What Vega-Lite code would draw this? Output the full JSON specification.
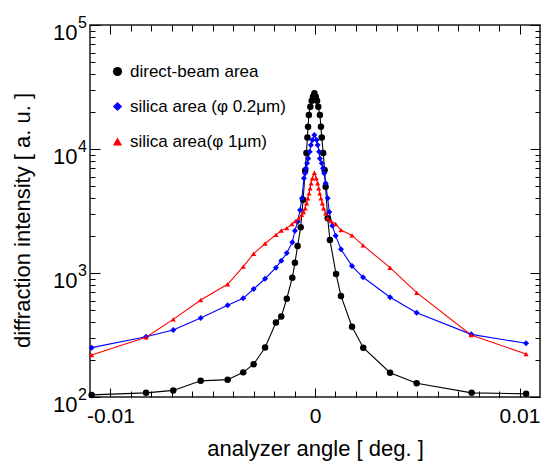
{
  "$schema": "https://vega.github.io/schema/vega-lite/v6.json",
  "width": 450,
  "height": 372,
  "autosize": "none",
  "padding": {"left": 90, "top": 25, "right": 3, "bottom": 65},
  "background": "white",
  "config": {
    "view": {"stroke": "#1a1a1a", "strokeWidth": 1.5},
    "font": "Liberation Sans",
    "axis": {"grid": false, "domain": false, "tickColor": "#000", "tickWidth": 1, "labelColor": "#000", "titleColor": "#000", "titleFontWeight": "normal"}
  },
  "data": {"values": [
    {"series": "direct-beam area", "x": -0.01092, "y": 104},
    {"series": "direct-beam area", "x": -0.00826, "y": 108},
    {"series": "direct-beam area", "x": -0.00693, "y": 113},
    {"series": "direct-beam area", "x": -0.00559, "y": 135},
    {"series": "direct-beam area", "x": -0.00427, "y": 138},
    {"series": "direct-beam area", "x": -0.00351, "y": 158},
    {"series": "direct-beam area", "x": -0.00300, "y": 184},
    {"series": "direct-beam area", "x": -0.00244, "y": 251},
    {"series": "direct-beam area", "x": -0.00191, "y": 398},
    {"series": "direct-beam area", "x": -0.00165, "y": 445},
    {"series": "direct-beam area", "x": -0.00138, "y": 621},
    {"series": "direct-beam area", "x": -0.00111, "y": 916},
    {"series": "direct-beam area", "x": -0.00098, "y": 1211},
    {"series": "direct-beam area", "x": -0.00085, "y": 1652},
    {"series": "direct-beam area", "x": -0.00070, "y": 2340},
    {"series": "direct-beam area", "x": -0.00058, "y": 3900},
    {"series": "direct-beam area", "x": -0.00048, "y": 6700},
    {"series": "direct-beam area", "x": -0.00042, "y": 9300},
    {"series": "direct-beam area", "x": -0.00037, "y": 12400},
    {"series": "direct-beam area", "x": -0.00034, "y": 15100},
    {"series": "direct-beam area", "x": -0.00030, "y": 18800},
    {"series": "direct-beam area", "x": -0.00023, "y": 21900},
    {"series": "direct-beam area", "x": -0.00016, "y": 24500},
    {"series": "direct-beam area", "x": -0.00010, "y": 26400},
    {"series": "direct-beam area", "x": -0.00003, "y": 28100},
    {"series": "direct-beam area", "x": 0.00004, "y": 26400},
    {"series": "direct-beam area", "x": 0.00010, "y": 24500},
    {"series": "direct-beam area", "x": 0.00016, "y": 21900},
    {"series": "direct-beam area", "x": 0.00024, "y": 18800},
    {"series": "direct-beam area", "x": 0.00029, "y": 15100},
    {"series": "direct-beam area", "x": 0.00033, "y": 12400},
    {"series": "direct-beam area", "x": 0.00040, "y": 9300},
    {"series": "direct-beam area", "x": 0.00047, "y": 6760},
    {"series": "direct-beam area", "x": 0.00052, "y": 4970},
    {"series": "direct-beam area", "x": 0.00062, "y": 2760},
    {"series": "direct-beam area", "x": 0.00073, "y": 1845},
    {"series": "direct-beam area", "x": 0.00103, "y": 981},
    {"series": "direct-beam area", "x": 0.00127, "y": 653},
    {"series": "direct-beam area", "x": 0.00181, "y": 369},
    {"series": "direct-beam area", "x": 0.00236, "y": 250},
    {"series": "direct-beam area", "x": 0.00367, "y": 157},
    {"series": "direct-beam area", "x": 0.00497, "y": 129},
    {"series": "direct-beam area", "x": 0.00766, "y": 108},
    {"series": "direct-beam area", "x": 0.01032, "y": 106},

    {"series": "silica area (φ 0.2μm)", "x": -0.01092, "y": 250},
    {"series": "silica area (φ 0.2μm)", "x": -0.00826, "y": 306},
    {"series": "silica area (φ 0.2μm)", "x": -0.00693, "y": 347},
    {"series": "silica area (φ 0.2μm)", "x": -0.00559, "y": 434},
    {"series": "silica area (φ 0.2μm)", "x": -0.00427, "y": 549},
    {"series": "silica area (φ 0.2μm)", "x": -0.00351, "y": 625},
    {"series": "silica area (φ 0.2μm)", "x": -0.00300, "y": 743},
    {"series": "silica area (φ 0.2μm)", "x": -0.00244, "y": 899},
    {"series": "silica area (φ 0.2μm)", "x": -0.00191, "y": 1104},
    {"series": "silica area (φ 0.2μm)", "x": -0.00165, "y": 1257},
    {"series": "silica area (φ 0.2μm)", "x": -0.00138, "y": 1449},
    {"series": "silica area (φ 0.2μm)", "x": -0.00111, "y": 1769},
    {"series": "silica area (φ 0.2μm)", "x": -0.00098, "y": 2195},
    {"series": "silica area (φ 0.2μm)", "x": -0.00085, "y": 2592},
    {"series": "silica area (φ 0.2μm)", "x": -0.00073, "y": 3220},
    {"series": "silica area (φ 0.2μm)", "x": -0.00064, "y": 4000},
    {"series": "silica area (φ 0.2μm)", "x": -0.00054, "y": 5800},
    {"series": "silica area (φ 0.2μm)", "x": -0.00049, "y": 6370},
    {"series": "silica area (φ 0.2μm)", "x": -0.00044, "y": 6980},
    {"series": "silica area (φ 0.2μm)", "x": -0.00039, "y": 7670},
    {"series": "silica area (φ 0.2μm)", "x": -0.00033, "y": 8400},
    {"series": "silica area (φ 0.2μm)", "x": -0.00026, "y": 9500},
    {"series": "silica area (φ 0.2μm)", "x": -0.00020, "y": 10770},
    {"series": "silica area (φ 0.2μm)", "x": -0.00013, "y": 11800},
    {"series": "silica area (φ 0.2μm)", "x": -0.00003, "y": 12970},
    {"series": "silica area (φ 0.2μm)", "x": 0.00008, "y": 11800},
    {"series": "silica area (φ 0.2μm)", "x": 0.00013, "y": 10770},
    {"series": "silica area (φ 0.2μm)", "x": 0.00020, "y": 9500},
    {"series": "silica area (φ 0.2μm)", "x": 0.00024, "y": 8400},
    {"series": "silica area (φ 0.2μm)", "x": 0.00033, "y": 7670},
    {"series": "silica area (φ 0.2μm)", "x": 0.00039, "y": 6980},
    {"series": "silica area (φ 0.2μm)", "x": 0.00045, "y": 6370},
    {"series": "silica area (φ 0.2μm)", "x": 0.00052, "y": 5300},
    {"series": "silica area (φ 0.2μm)", "x": 0.00062, "y": 4000},
    {"series": "silica area (φ 0.2μm)", "x": 0.00070, "y": 3100},
    {"series": "silica area (φ 0.2μm)", "x": 0.00085, "y": 2400},
    {"series": "silica area (φ 0.2μm)", "x": 0.00101, "y": 2000},
    {"series": "silica area (φ 0.2μm)", "x": 0.00127, "y": 1553},
    {"series": "silica area (φ 0.2μm)", "x": 0.00181, "y": 1138},
    {"series": "silica area (φ 0.2μm)", "x": 0.00235, "y": 923},
    {"series": "silica area (φ 0.2μm)", "x": 0.00367, "y": 637},
    {"series": "silica area (φ 0.2μm)", "x": 0.00497, "y": 479},
    {"series": "silica area (φ 0.2μm)", "x": 0.00764, "y": 320},
    {"series": "silica area (φ 0.2μm)", "x": 0.01032, "y": 271},

    {"series": "silica area(φ 1μm)", "x": -0.01092, "y": 218},
    {"series": "silica area(φ 1μm)", "x": -0.00826, "y": 303},
    {"series": "silica area(φ 1μm)", "x": -0.00693, "y": 423},
    {"series": "silica area(φ 1μm)", "x": -0.00559, "y": 605},
    {"series": "silica area(φ 1μm)", "x": -0.00427, "y": 811},
    {"series": "silica area(φ 1μm)", "x": -0.00351, "y": 1125},
    {"series": "silica area(φ 1μm)", "x": -0.00300, "y": 1431},
    {"series": "silica area(φ 1μm)", "x": -0.00244, "y": 1730},
    {"series": "silica area(φ 1μm)", "x": -0.00191, "y": 2030},
    {"series": "silica area(φ 1μm)", "x": -0.00165, "y": 2200},
    {"series": "silica area(φ 1μm)", "x": -0.00138, "y": 2300},
    {"series": "silica area(φ 1μm)", "x": -0.00113, "y": 2480},
    {"series": "silica area(φ 1μm)", "x": -0.00096, "y": 2620},
    {"series": "silica area(φ 1μm)", "x": -0.00079, "y": 2760},
    {"series": "silica area(φ 1μm)", "x": -0.00065, "y": 2950},
    {"series": "silica area(φ 1μm)", "x": -0.00056, "y": 3100},
    {"series": "silica area(φ 1μm)", "x": -0.00048, "y": 3330},
    {"series": "silica area(φ 1μm)", "x": -0.00041, "y": 3650},
    {"series": "silica area(φ 1μm)", "x": -0.00035, "y": 4000},
    {"series": "silica area(φ 1μm)", "x": -0.00029, "y": 4390},
    {"series": "silica area(φ 1μm)", "x": -0.00024, "y": 4820},
    {"series": "silica area(φ 1μm)", "x": -0.00019, "y": 5290},
    {"series": "silica area(φ 1μm)", "x": -0.00013, "y": 5810},
    {"series": "silica area(φ 1μm)", "x": -0.00003, "y": 6440},
    {"series": "silica area(φ 1μm)", "x": 0.00006, "y": 5810},
    {"series": "silica area(φ 1μm)", "x": 0.00013, "y": 5290},
    {"series": "silica area(φ 1μm)", "x": 0.00018, "y": 4820},
    {"series": "silica area(φ 1μm)", "x": 0.00023, "y": 4390},
    {"series": "silica area(φ 1μm)", "x": 0.00029, "y": 4000},
    {"series": "silica area(φ 1μm)", "x": 0.00036, "y": 3650},
    {"series": "silica area(φ 1μm)", "x": 0.00042, "y": 3330},
    {"series": "silica area(φ 1μm)", "x": 0.00052, "y": 3030},
    {"series": "silica area(φ 1μm)", "x": 0.00062, "y": 2760},
    {"series": "silica area(φ 1μm)", "x": 0.00078, "y": 2620},
    {"series": "silica area(φ 1μm)", "x": 0.00101, "y": 2485},
    {"series": "silica area(φ 1μm)", "x": 0.00127, "y": 2220},
    {"series": "silica area(φ 1μm)", "x": 0.00181, "y": 2010},
    {"series": "silica area(φ 1μm)", "x": 0.00235, "y": 1670},
    {"series": "silica area(φ 1μm)", "x": 0.00367, "y": 1104},
    {"series": "silica area(φ 1μm)", "x": 0.00497, "y": 694},
    {"series": "silica area(φ 1μm)", "x": 0.00763, "y": 316},
    {"series": "silica area(φ 1μm)", "x": 0.01032, "y": 222}
  ]},
  "layer": [
    {
      "mark": {"type": "line", "strokeWidth": 1.1},
      "encoding": {
        "x": {"field": "x", "type": "quantitative",
          "scale": {"domain": [-0.011, 0.011], "nice": false, "zero": false},
          "axis": {"orient": "bottom", "title": "analyzer angle [ deg. ]", "ticks": false,
            "values": [-0.01, 0, 0.01],
            "labelExpr": "abs(datum.value) < 1e-9 ? '0' : (datum.value < 0 ? '-0.01' : '0.01')",
            "labelFontSize": 21, "labelPadding": 8, "labelFlush": false, "labelOverlap": false,
            "titleFontSize": 22, "titleBaseline": "alphabetic", "titleY": 58}},
        "y": {"field": "y", "type": "quantitative",
          "scale": {"type": "log", "domain": [100, 100000], "nice": false},
          "axis": {"orient": "left", "title": "diffraction intensity [ a. u. ]", "ticks": false,
            "values": [100, 1000, 10000, 100000],
            "labelExpr": "'10'",
            "labelFontSize": 22, "labelPadding": 13, "labelBaseline": "alphabetic", "labelOffset": 14, "labelFlush": false, "labelOverlap": false,
            "titleFontSize": 22, "titleBaseline": "alphabetic", "titleX": -61, "titleY": 195}},
        "detail": {"field": "series", "type": "nominal"},
        "color": {"condition": [
          {"test": "datum.series === 'direct-beam area'", "value": "#000000"},
          {"test": "datum.series === 'silica area (φ 0.2μm)'", "value": "#0000ff"}],
          "value": "#ff0000"}
      }
    },
    {
      "mark": {"type": "point", "filled": true, "opacity": 1},
      "encoding": {
        "x": {"field": "x", "type": "quantitative", "axis": null},
        "y": {"field": "y", "type": "quantitative",
          "axis": {"orient": "left", "title": null, "ticks": false,
            "values": [100, 1000, 10000, 100000],
            "labelExpr": "datum.value == 100 ? '2' : datum.value == 1000 ? '3' : datum.value == 10000 ? '4' : '5'",
            "labelFontSize": 16, "labelPadding": 12.5, "labelAlign": "left", "labelBaseline": "alphabetic", "labelOffset": 2, "labelFlush": false, "labelOverlap": false}},
        "color": {"field": "series", "type": "nominal",
          "scale": {"domain": ["direct-beam area", "silica area (φ 0.2μm)", "silica area(φ 1μm)"], "range": ["#000000", "#0000ff", "#ff0000"]},
          "legend": {"orient": "none", "legendX": 19, "legendY": 38, "title": null,
            "labelFontSize": 17, "labelLimit": 400, "labelOffset": 4, "symbolSize": 85, "rowPadding": 17,
            "symbolStrokeWidth": 0,
            "encode": {"labels": {"fill": {"signal": "datum.label === 'direct-beam area' ? '#000000' : (indexOf(datum.label, '0.2') >= 0 ? '#0000ff' : '#ff0000')"}}}}},
        "shape": {"field": "series", "type": "nominal",
          "scale": {"domain": ["direct-beam area", "silica area (φ 0.2μm)", "silica area(φ 1μm)"], "range": ["circle", "diamond", "triangle-up"]},
          "legend": {"orient": "none", "legendX": 19, "legendY": 38, "title": null,
            "labelFontSize": 17, "labelLimit": 400, "labelOffset": 4, "symbolSize": 85, "rowPadding": 17,
            "symbolStrokeWidth": 0,
            "encode": {"labels": {"fill": {"signal": "datum.label === 'direct-beam area' ? '#000000' : (indexOf(datum.label, '0.2') >= 0 ? '#0000ff' : '#ff0000')"}}}}},
        "size": {"condition": [
          {"test": "datum.series === 'direct-beam area'", "value": 42},
          {"test": "datum.series === 'silica area (φ 0.2μm)'", "value": 36}],
          "value": 26}
      }
    },
    {
      "mark": {"type": "point", "opacity": 0},
      "encoding": {
        "x": {"field": "x", "type": "quantitative",
          "axis": {"orient": "top", "title": null, "labels": false,
            "values": [-0.01,-0.009,-0.008,-0.007,-0.006,-0.005,-0.004,-0.003,-0.002,-0.001,0,0.001,0.002,0.003,0.004,0.005,0.006,0.007,0.008,0.009,0.01],
            "tickSize": {"condition": {"test": "abs(datum.value) < 1e-9 || abs(abs(datum.value) - 0.01) < 1e-9", "value": -9}, "value": -6}}},
        "y": {"field": "y", "type": "quantitative",
          "axis": {"orient": "right", "title": null, "labels": false,
            "values": [100,200,300,400,500,600,700,800,900,1000,2000,3000,4000,5000,6000,7000,8000,9000,10000,20000,30000,40000,50000,60000,70000,80000,90000,100000],
            "tickSize": {"condition": {"test": "datum.value == 100 || datum.value == 1000 || datum.value == 10000 || datum.value == 100000", "value": -10}, "value": -5}}}
      }
    },
    {
      "mark": {"type": "point", "opacity": 0},
      "encoding": {
        "x": {"field": "x", "type": "quantitative",
          "axis": {"orient": "bottom", "title": null, "labels": false,
            "values": [-0.01,-0.009,-0.008,-0.007,-0.006,-0.005,-0.004,-0.003,-0.002,-0.001,0,0.001,0.002,0.003,0.004,0.005,0.006,0.007,0.008,0.009,0.01],
            "tickSize": {"condition": {"test": "abs(datum.value) < 1e-9 || abs(abs(datum.value) - 0.01) < 1e-9", "value": -9}, "value": -6}}},
        "y": {"field": "y", "type": "quantitative",
          "axis": {"orient": "left", "title": null, "labels": false,
            "values": [100,200,300,400,500,600,700,800,900,1000,2000,3000,4000,5000,6000,7000,8000,9000,10000,20000,30000,40000,50000,60000,70000,80000,90000,100000],
            "tickSize": {"condition": {"test": "datum.value == 100 || datum.value == 1000 || datum.value == 10000 || datum.value == 100000", "value": -10}, "value": -5}}}
      }
    }
  ],
  "resolve": {"axis": {"x": "independent", "y": "independent"}}
}
